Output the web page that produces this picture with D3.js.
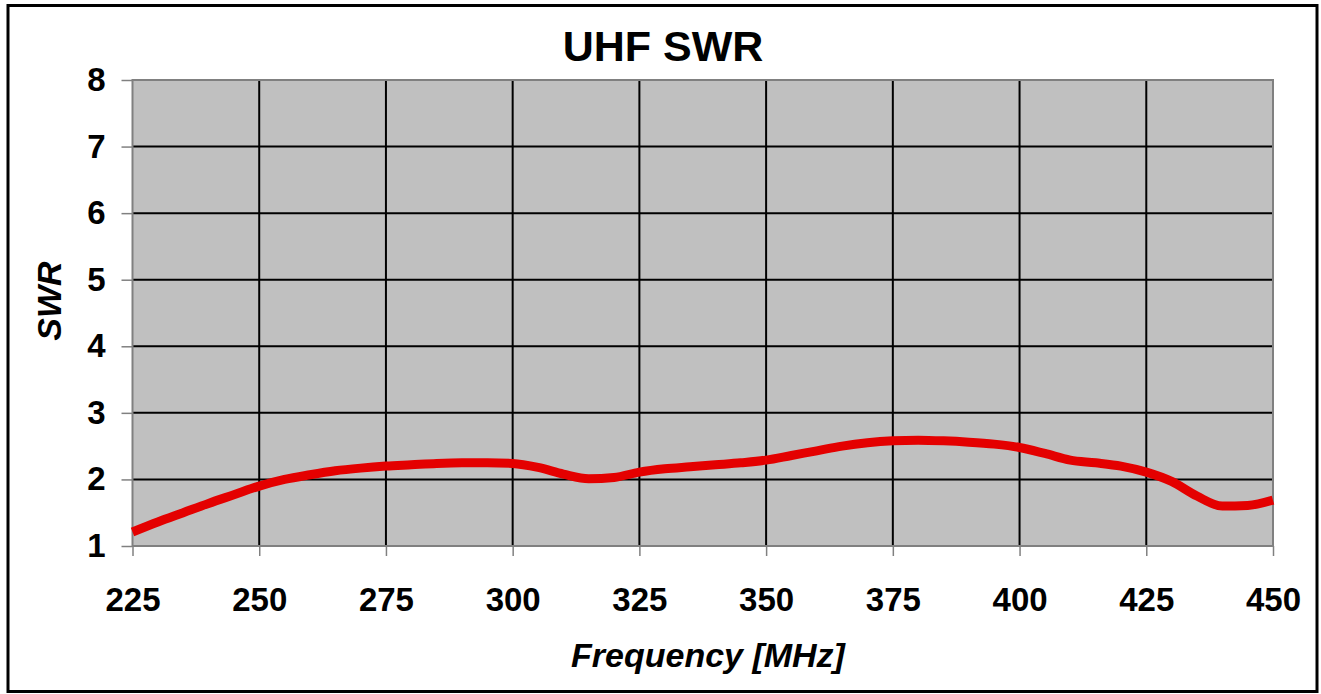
<!DOCTYPE html>
<html lang="en">
<head>
    <meta charset="UTF-8">
    <title>UHF SWR</title>
    <style>
        body { margin: 0; background: #fff; }
        svg { display: block; font-family: "Liberation Sans", Arial, sans-serif; }
    </style>
</head>
<body>
    <svg id="chart" width="1321" height="694"></svg>

    <script src="https://d3js.org/d3.v7.min.js"></script>
    <script>
        // --- data ---
        const freqs = [225, 230, 235, 240, 245, 250, 255, 260, 265, 270, 275, 280, 285, 290, 295,
                       300, 305, 310, 315, 320, 325, 330, 335, 340, 345, 350, 355, 360, 365, 370,
                       375, 380, 385, 390, 395, 400, 405, 410, 415, 420, 425, 430, 435, 440, 445, 450];
        const swr = [1.21, 1.36, 1.50, 1.64, 1.77, 1.90, 2.00, 2.07, 2.13, 2.17, 2.20, 2.22, 2.24, 2.25, 2.25,
                     2.24, 2.18, 2.08, 2.01, 2.03, 2.11, 2.16, 2.19, 2.22, 2.25, 2.29, 2.36, 2.43, 2.50, 2.55,
                     2.58, 2.59, 2.58, 2.56, 2.53, 2.48, 2.39, 2.29, 2.25, 2.20, 2.11, 1.97, 1.75, 1.60, 1.61, 1.69];
        const xTicks = [225, 250, 275, 300, 325, 350, 375, 400, 425, 450];
        const yTicks = [1, 2, 3, 4, 5, 6, 7, 8];

        const data = freqs.map((f, i) => ({ f: f, v: swr[i] }));

        const svg = d3.select("#chart");

        // outer frame
        svg.append("rect")
            .attr("x", 8).attr("y", 5.5).attr("width", 1309).attr("height", 686)
            .attr("fill", "#fff").attr("stroke", "#000").attr("stroke-width", 3);

        const plot = { left: 132.5, right: 1273, top: 80, bottom: 546 };

        const x = d3.scaleLinear().domain([225, 450]).range([plot.left, plot.right]);
        const y = d3.scaleLinear().domain([1, 8]).range([plot.bottom, plot.top]);

        // plot background
        svg.append("rect")
            .attr("x", plot.left).attr("y", plot.top)
            .attr("width", plot.right - plot.left).attr("height", plot.bottom - plot.top)
            .attr("fill", "#c0c0c0");

        // grid
        svg.append("g")
            .selectAll("line")
            .data(xTicks.slice(1, -1))
            .join("line")
            .attr("x1", d => x(d)).attr("x2", d => x(d))
            .attr("y1", plot.top).attr("y2", plot.bottom)
            .attr("stroke", "#000").attr("stroke-width", 2);

        svg.append("g")
            .selectAll("line")
            .data(yTicks.slice(1, -1))
            .join("line")
            .attr("x1", plot.left).attr("x2", plot.right)
            .attr("y1", d => y(d)).attr("y2", d => y(d))
            .attr("stroke", "#000").attr("stroke-width", 2);

        // plot border
        svg.append("rect")
            .attr("x", plot.left).attr("y", plot.top)
            .attr("width", plot.right - plot.left).attr("height", plot.bottom - plot.top)
            .attr("fill", "none").attr("stroke", "#808080").attr("stroke-width", 2);

        // axes
        const xAxis = svg.append("g")
            .attr("transform", `translate(0,${plot.bottom})`)
            .call(d3.axisBottom(x).tickValues(xTicks).tickSize(10).tickPadding(32).tickFormat(d3.format("d")));
        const yAxis = svg.append("g")
            .attr("transform", `translate(${plot.left},0)`)
            .call(d3.axisLeft(y).tickValues(yTicks).tickSize(11).tickPadding(16).tickFormat(d3.format("d")));

        [xAxis, yAxis].forEach(g => {
            g.select(".domain").remove();
            g.selectAll(".tick line").attr("stroke", "#808080").attr("stroke-width", 1.5);
            g.selectAll(".tick text")
                .attr("fill", "#000")
                .style("font-size", "33px")
                .style("font-weight", "bold");
        });
        xAxis.selectAll(".tick text").attr("dy", "0.71em");

        // curve
        svg.append("path")
            .datum(data)
            .attr("fill", "none")
            .attr("stroke", "#e40000")
            .attr("stroke-width", 9)
            .attr("stroke-linejoin", "round")
            .attr("d", d3.line().x(d => x(d.f)).y(d => y(d.v)).curve(d3.curveMonotoneX));

        // titles
        svg.append("text")
            .attr("x", 663).attr("y", 61)
            .attr("text-anchor", "middle")
            .style("font-size", "43px").style("font-weight", "bold")
            .text("UHF SWR");

        svg.append("text")
            .attr("x", 708).attr("y", 667)
            .attr("text-anchor", "middle")
            .style("font-size", "34px").style("font-weight", "bold").style("font-style", "italic")
            .text("Frequency [MHz]");

        svg.append("text")
            .attr("transform", "translate(61,301) rotate(-90)")
            .attr("text-anchor", "middle")
            .style("font-size", "34px").style("font-weight", "bold").style("font-style", "italic")
            .text("SWR");
    </script>
</body>
</html>
